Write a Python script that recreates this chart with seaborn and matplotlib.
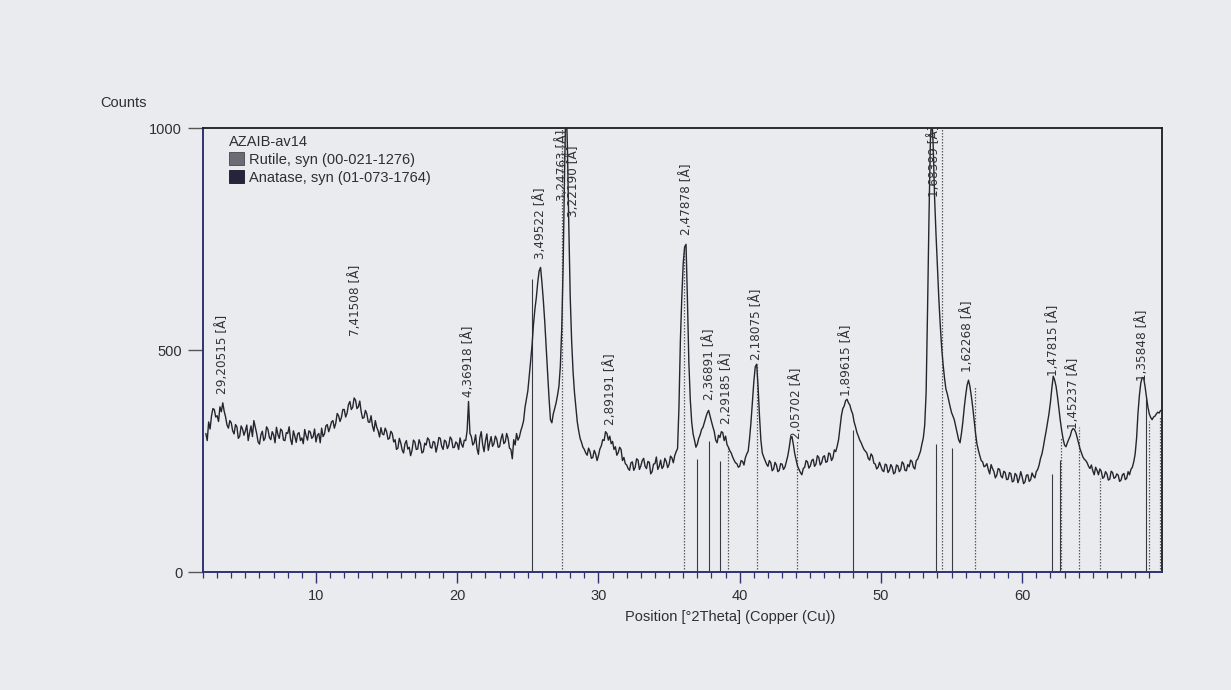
import numpy as np
import pandas as pd
import matplotlib
matplotlib.use("Agg")
import matplotlib.pyplot as plt
from matplotlib.ticker import MultipleLocator
from matplotlib.patches import Patch
from matplotlib import font_manager
import seaborn as sns

# ---------------- data ----------------
# counts every 0.1 °2Theta; each row starts at the given position
row_start = [2.2] + [float(d) for d in range(3, 70)]
count_rows = [
    [312, 296, 338, 322, 351, 368, 366, 349],                      # 2.2-2.9
    [352, 339, 372, 361, 381, 362, 349, 331, 324, 341],            # 3
    [336, 318, 311, 332, 327, 301, 306, 329, 322, 308],            # 4
    [318, 331, 296, 314, 329, 305, 341, 326, 312, 293],            # 5
    [288, 309, 317, 296, 302, 327, 321, 303, 298, 316],            # 6
    [309, 291, 326, 310, 301, 322, 318, 297, 296, 314],            # 7
    [312, 327, 299, 287, 318, 306, 292, 311, 314, 296],            # 8
    [302, 289, 321, 307, 297, 318, 315, 301, 305, 322],            # 9
    [293, 308, 312, 291, 324, 305, 311, 329, 332, 316],            # 10
    [326, 338, 341, 324, 335, 357, 352, 339, 348, 366],            # 11
    [366, 349, 358, 377, 384, 366, 371, 392, 387, 368],            # 12
    [372, 385, 361, 346, 348, 364, 356, 338, 337, 352],            # 13
    [329, 317, 341, 326, 318, 304, 325, 311, 309, 324],            # 14
    [316, 299, 301, 317, 312, 293, 298, 276, 279, 301],            # 15
    [291, 275, 268, 289, 296, 277, 281, 262, 274, 297],            # 16
    [293, 276, 277, 298, 289, 268, 271, 290, 286, 302],            # 17
    [298, 281, 279, 294, 292, 270, 284, 303, 301, 283],            # 18
    [276, 297, 294, 278, 285, 304, 299, 280, 281, 293],            # 19
    [289, 276, 302, 288, 281, 297, 296, 318, 384, 312],            # 20
    [305, 286, 291, 309, 278, 265, 302, 316, 287, 271],            # 21
    [296, 311, 274, 291, 305, 283, 289, 306, 299, 281],            # 22
    [282, 300, 311, 289, 293, 312, 301, 279, 276, 255],            # 23
    [298, 286, 312, 297, 304, 318, 328, 341, 371, 389],            # 24
    [408, 441, 476, 512, 558, 592, 618, 652, 678, 686],            # 25
    [651, 610, 562, 503, 448, 392, 343, 336, 356, 368],            # 26
    [381, 398, 418, 463, 548, 690, 900, 1070, 960, 780],           # 27
    [620, 521, 452, 405, 372, 338, 318, 301, 292, 281],            # 28
    [276, 268, 263, 279, 271, 256, 258, 274, 266, 251],            # 29
    [262, 277, 284, 298, 296, 316, 312, 297, 306, 289],            # 30
    [294, 276, 282, 263, 269, 281, 276, 251, 258, 244],            # 31
    [241, 233, 229, 246, 248, 229, 236, 255, 252, 231],            # 32
    [239, 251, 256, 238, 233, 249, 247, 221, 226, 243],            # 33
    [244, 259, 231, 238, 252, 233, 238, 256, 249, 235],            # 34
    [242, 261, 257, 246, 262, 271, 278, 372, 521, 618],            # 35
    [695, 732, 738, 612, 472, 389, 338, 311, 297, 281],            # 36
    [288, 301, 309, 321, 326, 337, 348, 358, 364, 351],            # 37
    [339, 327, 316, 297, 291, 308, 303, 316, 314, 296],            # 38
    [306, 287, 281, 273, 268, 259, 252, 246, 244, 236],            # 39
    [238, 251, 249, 241, 257, 266, 272, 301, 338, 383],            # 40
    [428, 462, 468, 418, 352, 297, 268, 259, 251, 243],            # 41
    [238, 251, 246, 228, 232, 247, 241, 226, 229, 244],            # 42
    [243, 231, 236, 248, 261, 279, 302, 305, 287, 266],            # 43
    [252, 238, 231, 224, 219, 233, 236, 251, 248, 234],            # 44
    [239, 251, 254, 238, 243, 262, 258, 241, 246, 259],            # 45
    [262, 247, 249, 268, 266, 251, 257, 275, 271, 283],            # 46
    [298, 326, 352, 368, 374, 386, 389, 381, 376, 364],            # 47
    [356, 338, 327, 314, 306, 297, 291, 283, 276, 272],            # 48
    [268, 256, 252, 266, 261, 245, 243, 232, 236, 247],            # 49
    [238, 229, 226, 243, 241, 224, 229, 242, 236, 221],            # 50
    [224, 241, 239, 226, 231, 248, 244, 229, 228, 242],            # 51
    [237, 252, 249, 236, 232, 251, 254, 263, 272, 288],            # 52
    [302, 331, 405, 590, 795, 970, 1030, 960, 842, 760],           # 53
    [688, 615, 556, 505, 468, 437, 412, 401, 386, 372],            # 54
    [359, 351, 342, 327, 311, 298, 291, 312, 338, 371],            # 55
    [398, 421, 432, 418, 396, 371, 342, 312, 288, 274],            # 56
    [262, 251, 248, 237, 239, 244, 231, 221, 242, 233],            # 57
    [226, 212, 218, 233, 231, 216, 212, 227, 224, 208],            # 58
    [209, 224, 221, 203, 205, 222, 218, 201, 211, 226],            # 59
    [214, 199, 203, 218, 219, 204, 208, 223, 216, 212],            # 60
    [226, 231, 241, 256, 266, 282, 301, 318, 337, 357],            # 61
    [382, 414, 441, 432, 418, 395, 368, 341, 318, 299],            # 62
    [286, 282, 291, 299, 306, 318, 323, 321, 314, 302],            # 63
    [289, 277, 268, 259, 254, 251, 246, 238, 233, 241],            # 64
    [228, 219, 236, 229, 219, 232, 227, 211, 214, 226],            # 65
    [221, 207, 209, 227, 224, 211, 213, 221, 218, 204],            # 66
    [207, 219, 222, 208, 211, 226, 219, 231, 236, 248],            # 67
    [266, 301, 358, 398, 426, 438, 437, 418, 394, 372],            # 68
    [356, 348, 343, 349, 351, 356, 360, 358, 364],                 # 69.0-69.8
]

rutile_pos = [27.45, 36.09, 39.19, 41.23, 44.05, 54.32, 56.64, 62.74, 64.04, 65.48, 69.01, 69.79]
rutile_height = [1000, 730, 280, 468, 296, 1000, 420, 305, 326, 212, 340, 350]
anatase_pos = [25.28, 36.95, 37.80, 38.57, 48.05, 53.89, 55.06, 62.12, 62.69, 68.76]
anatase_height = [660, 255, 296, 251, 320, 289, 280, 220, 252, 390]

peak_labels = ["29,20515 [Å]", "7,41508 [Å]", "4,36918 [Å]", "3,49522 [Å]",
               "3,24763 [Å]", "3,22190 [Å]", "2,89191 [Å]", "2,47878 [Å]",
               "2,36891 [Å]", "2,29185 [Å]", "2,18075 [Å]", "2,05702 [Å]",
               "1,89615 [Å]", "1,68389 [Å]", "1,62268 [Å]", "1,47815 [Å]",
               "1,45237 [Å]", "1,35848 [Å]"]
peak_label_x = [3.4, 12.8, 20.8, 25.9, 27.45, 28.25, 30.86, 36.2, 37.86, 39.07,
                41.2, 44.0, 47.57, 53.8, 56.1, 62.23, 63.6, 68.5]
peak_label_y = [400, 531, 395, 705, 835, 800, 330, 760, 388, 334, 478, 300,
                396, 845, 450, 442, 322, 430]

x_ticks = [10, 20, 30, 40, 50, 60]
y_ticks = [0, 500, 1000]
sample_name = "AZAIB-av14"
phase_names = ["Rutile, syn (00-021-1276)", "Anatase, syn (01-073-1764)"]

# ---------------- style ----------------
paper = "#e9ebee"
trace_color = "#25252f"
axis_blue = "#2e3272"
text_color = "#2f2f33"

sns.set_theme(style="ticks")
plt.rcParams["font.family"] = ["Liberation Sans", "DejaVu Sans"]

fonts = font_manager.fontManager.ttflist
has_dv_cond = any(f.name == "DejaVu Sans" and f.stretch in ("condensed", 600, "semi-condensed") for f in fonts)
has_lib_narrow = any(f.name == "Liberation Sans Narrow" for f in fonts)
if has_dv_cond:
    lab_font = dict(family="DejaVu Sans", fontstretch="condensed", fontsize=9.6)
elif has_lib_narrow:
    lab_font = dict(family="Liberation Sans Narrow", fontsize=11)
else:
    lab_font = dict(family="DejaVu Sans", fontsize=8.6)

xs, ys = [], []
for start, row in zip(row_start, count_rows):
    for i, v in enumerate(row):
        xs.append(round(start + 0.1 * i, 2))
        ys.append(v)
df = pd.DataFrame({"two_theta": xs, "counts": ys})

fig = plt.figure(figsize=(12.31, 6.90), dpi=100)
fig.patch.set_facecolor(paper)
ax = fig.add_axes([203 / 1231, 1 - 572 / 690, 959 / 1231, 444 / 690])
ax.set_facecolor(paper)

sns.lineplot(data=df, x="two_theta", y="counts", ax=ax, color=trace_color,
             linewidth=1.0, zorder=3)

ax.vlines(rutile_pos, 0, rutile_height, colors="#5a5a62", linestyles=(0, (1.2, 1.2)),
          linewidth=0.9, zorder=2)
ax.vlines(anatase_pos, 0, anatase_height, colors="#3a3a44", linewidth=0.8, zorder=2)

for txt, x, y in zip(peak_labels, peak_label_x, peak_label_y):
    ax.text(x, y, txt, rotation=90, ha="center", va="bottom", color="#333337",
            zorder=4, **lab_font)

ax.set_xlim(2.0, 69.9)
ax.set_ylim(0, 1000)
ax.set_xticks(x_ticks)
ax.set_yticks(y_ticks)
ax.xaxis.set_minor_locator(MultipleLocator(1))
ax.tick_params(axis="x", which="major", direction="out", length=8, width=1.0,
               color=axis_blue, labelsize=10.5, labelcolor=text_color, pad=4)
ax.tick_params(axis="x", which="minor", direction="out", length=4, width=0.9,
               color=axis_blue)
ax.tick_params(axis="y", which="major", direction="out", length=11, width=1.0,
               color="#555", labelsize=10.5, labelcolor=text_color, pad=4)

for side in ("left", "bottom"):
    ax.spines[side].set_color(axis_blue)
    ax.spines[side].set_linewidth(1.4)
for side in ("top", "right"):
    ax.spines[side].set_color("#1c1c22")
    ax.spines[side].set_linewidth(1.3)

ax.set_xlabel("Position [°2Theta] (Copper (Cu))", fontsize=10.5, color=text_color)
ax.xaxis.set_label_coords(0.55, -0.085)
ax.set_ylabel("")
fig.text(100 / 1231, 1 - 103 / 690, "Counts", ha="left", va="center",
         fontsize=10.5, color=text_color)

handles = [Patch(facecolor="#6c6c74", edgecolor="#45454d", linewidth=0.6),
           Patch(facecolor="#24243a", edgecolor="#15152a", linewidth=0.6)]
leg = ax.legend(handles, phase_names, title=sample_name, loc="upper left",
                bbox_to_anchor=(0.018, 1.005), frameon=False, fontsize=10.5,
                title_fontsize=10.5, handlelength=1.0, handleheight=1.0,
                handletextpad=0.35, labelspacing=0.25, borderpad=0.1)
leg._legend_box.align = "left"
for t in leg.get_texts():
    t.set_color(text_color)
leg.get_title().set_color(text_color)

fig.savefig("out.png", dpi=100, facecolor=paper)
